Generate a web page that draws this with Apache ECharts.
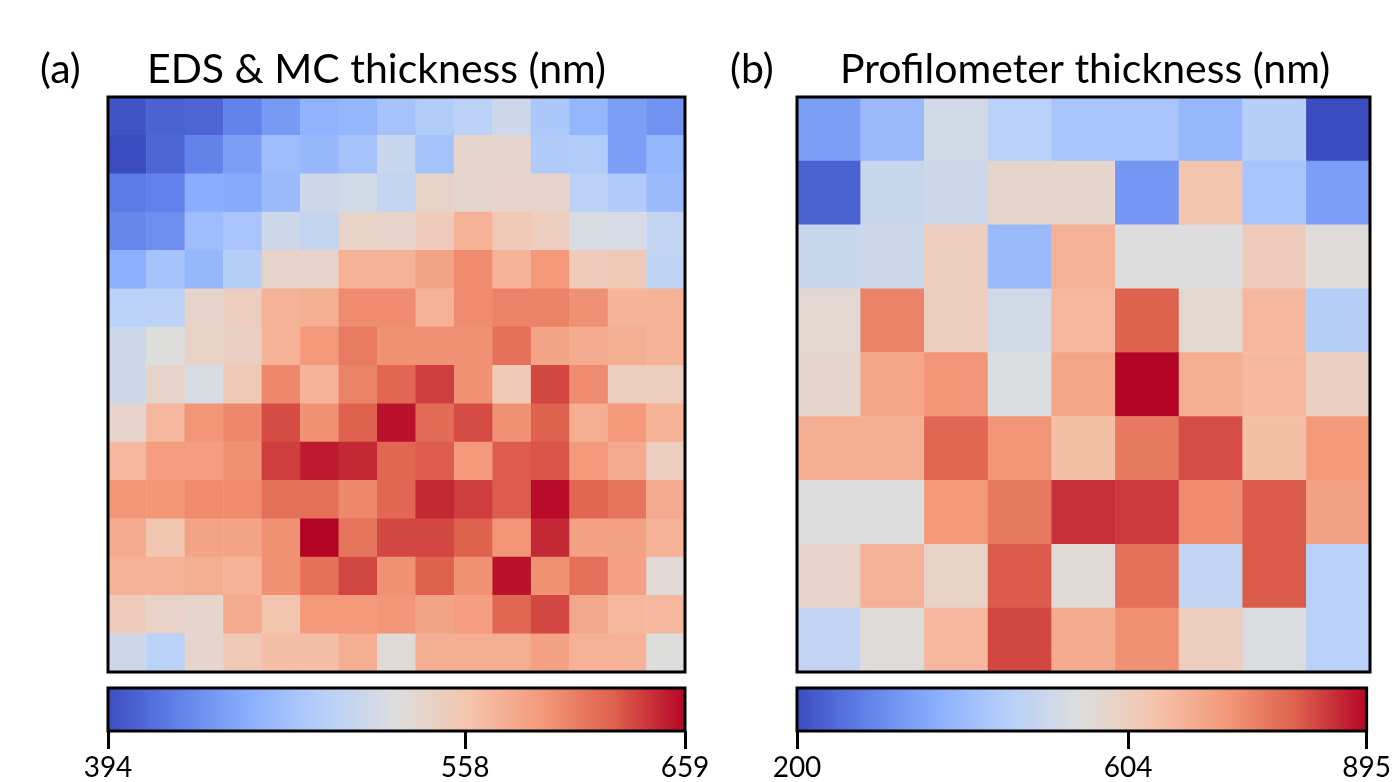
<!DOCTYPE html>
<html>
<head>
<meta charset="utf-8">
<script src="https://cdn.jsdelivr.net/npm/echarts@6/dist/echarts.min.js"></script>
<style>
  html, body { margin: 0; padding: 0; background: #fff; }
  #chart { width: 1394px; height: 782px; }
</style>
</head>
<body>
<div id="chart"></div>
<script>
// EDS & MC thickness (nm), 15 x 15 map, top row first
var edsThickness = [
  [399, 407, 410, 428, 444, 463, 466, 479, 489, 497, 511, 484, 466, 447, 439],
  [394, 410, 428, 447, 474, 468, 479, 508, 479, 537, 537, 487, 489, 447, 466],
  [423, 426, 458, 455, 471, 511, 516, 503, 542, 537, 540, 540, 497, 487, 471],
  [431, 436, 474, 481, 511, 503, 542, 540, 550, 574, 553, 548, 521, 519, 503],
  [460, 479, 468, 492, 540, 540, 574, 574, 585, 601, 574, 593, 550, 553, 500],
  [495, 497, 540, 548, 574, 577, 601, 601, 574, 601, 606, 606, 598, 572, 574],
  [511, 527, 542, 545, 574, 593, 611, 598, 598, 598, 617, 585, 580, 577, 574],
  [511, 540, 521, 553, 603, 572, 606, 622, 638, 598, 553, 635, 601, 548, 548],
  [540, 569, 595, 603, 633, 598, 625, 654, 619, 633, 598, 625, 577, 593, 574],
  [569, 590, 590, 598, 638, 651, 646, 622, 627, 593, 627, 630, 593, 580, 548],
  [595, 595, 601, 601, 617, 617, 603, 622, 646, 638, 627, 656, 622, 614, 580],
  [580, 556, 585, 585, 598, 659, 614, 635, 635, 625, 595, 646, 587, 587, 574],
  [574, 574, 577, 574, 598, 617, 635, 598, 625, 598, 654, 598, 617, 587, 532],
  [550, 542, 537, 580, 558, 593, 593, 595, 585, 590, 622, 635, 582, 569, 569],
  [511, 495, 537, 553, 564, 564, 577, 532, 577, 577, 577, 587, 574, 574, 527]
];

// Profilometer thickness (nm), 9 x 9 map, top row first
var profThickness = [
  [339, 402, 520, 464, 427, 429, 395, 457, 200],
  [235, 499, 506, 575, 575, 325, 631, 429, 339],
  [499, 506, 603, 402, 673, 548, 548, 610, 554],
  [568, 756, 603, 520, 659, 805, 568, 659, 457],
  [575, 700, 728, 541, 700, 895, 680, 659, 596],
  [680, 680, 798, 728, 645, 770, 826, 645, 721],
  [548, 548, 721, 770, 853, 846, 742, 812, 707],
  [582, 673, 589, 812, 561, 784, 485, 812, 464],
  [485, 554, 659, 832, 687, 735, 603, 541, 464]
];

var edsRange = [394, 659];
var profRange = [200, 895];
var edsTicks = [394, 558, 659];
var profTicks = [200, 604, 895];

var coolwarm = ['#3b4cc0', '#6282ea', '#8db0fe', '#b8d0f9', '#dddddd',
                '#f5c4ac', '#f49a7b', '#de604d', '#b40426'];

function toCells(rows) {
  var out = [];
  for (var r = 0; r < rows.length; r++) {
    for (var c = 0; c < rows[r].length; c++) {
      out.push([c, r, rows[r][c]]);
    }
  }
  return out;
}
function indices(n) {
  var a = [];
  for (var i = 0; i < n; i++) a.push(String(i));
  return a;
}
function gradient() {
  var stops = [];
  for (var i = 0; i < coolwarm.length; i++) {
    stops.push({ offset: i / (coolwarm.length - 1), color: coolwarm[i] });
  }
  return { type: 'linear', x: 0, y: 0, x2: 1, y2: 0, colorStops: stops };
}

var font = 'Lato, "Open Sans", sans-serif';
var titleFont = '41px ' + font;
var hidden = { show: false };

var myChart = echarts.init(document.getElementById('chart'));
myChart.setOption({
  backgroundColor: '#fff',
  animation: false,
  graphic: [
    { type: 'text', left: 40, top: 49, style: { text: '(a)', font: titleFont, fill: '#000' } },
    { type: 'text', left: 147, top: 49, style: { text: 'EDS & MC thickness (nm)', font: titleFont, fill: '#000' } },
    { type: 'text', left: 730, top: 49, style: { text: '(b)', font: titleFont, fill: '#000' } },
    { type: 'text', left: 840, top: 49, style: { text: 'Profilometer thickness (nm)', font: titleFont, fill: '#000' } }
  ],
  grid: [
    // heatmaps: frame drawn above the cells
    { left: 108, top: 97, width: 577, height: 575, show: true, z: 5,
      backgroundColor: 'transparent', borderColor: '#000', borderWidth: 3 },
    { left: 797, top: 97, width: 573, height: 575, show: true, z: 5,
      backgroundColor: 'transparent', borderColor: '#000', borderWidth: 3 },
    // colorbars
    { left: 108, top: 688, width: 577, height: 46, show: true,
      backgroundColor: gradient(), borderColor: '#000', borderWidth: 3 },
    { left: 797, top: 688, width: 573, height: 46, show: true,
      backgroundColor: gradient(), borderColor: '#000', borderWidth: 3 }
  ],
  xAxis: [
    { type: 'category', gridIndex: 0, data: indices(15), axisLine: hidden, axisTick: hidden, axisLabel: hidden, splitLine: hidden },
    { type: 'category', gridIndex: 1, data: indices(9), axisLine: hidden, axisTick: hidden, axisLabel: hidden, splitLine: hidden },
    {
      type: 'value', gridIndex: 2, min: edsRange[0], max: edsRange[1],
      axisLine: hidden, splitLine: hidden,
      axisTick: { show: true, customValues: edsTicks, length: 18, lineStyle: { color: '#000', width: 3 } },
      axisLabel: { show: true, customValues: edsTicks, margin: 23, fontSize: 28, fontFamily: font, color: '#000',
                   showMinLabel: true, showMaxLabel: true, hideOverlap: false }
    },
    {
      type: 'value', gridIndex: 3, min: profRange[0], max: profRange[1],
      axisLine: hidden, splitLine: hidden,
      axisTick: { show: true, customValues: profTicks, length: 18, lineStyle: { color: '#000', width: 3 } },
      axisLabel: { show: true, customValues: profTicks, margin: 23, fontSize: 28, fontFamily: font, color: '#000',
                   showMinLabel: true, showMaxLabel: true, hideOverlap: false }
    }
  ],
  yAxis: [
    { type: 'category', gridIndex: 0, inverse: true, data: indices(15), axisLine: hidden, axisTick: hidden, axisLabel: hidden, splitLine: hidden },
    { type: 'category', gridIndex: 1, inverse: true, data: indices(9), axisLine: hidden, axisTick: hidden, axisLabel: hidden, splitLine: hidden },
    { type: 'value', gridIndex: 2, show: false },
    { type: 'value', gridIndex: 3, show: false }
  ],
  visualMap: [
    { type: 'continuous', seriesIndex: 0, min: edsRange[0], max: edsRange[1], show: false, inRange: { color: coolwarm } },
    { type: 'continuous', seriesIndex: 1, min: profRange[0], max: profRange[1], show: false, inRange: { color: coolwarm } }
  ],
  series: [
    { name: 'EDS & MC', type: 'heatmap', xAxisIndex: 0, yAxisIndex: 0, data: toCells(edsThickness) },
    { name: 'Profilometer', type: 'heatmap', xAxisIndex: 1, yAxisIndex: 1, data: toCells(profThickness) }
  ]
});
</script>
</body>
</html>
